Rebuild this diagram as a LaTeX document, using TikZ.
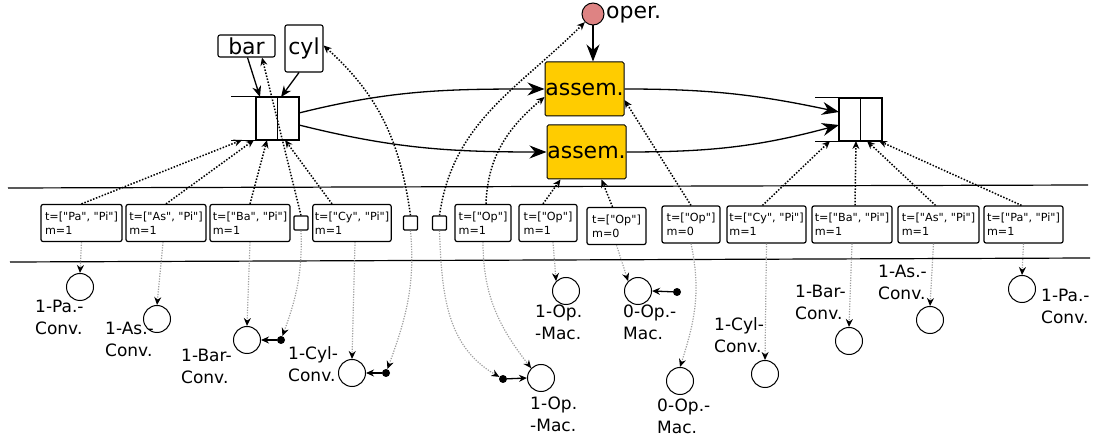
\documentclass[tikz,border=0pt]{standalone}
\usepackage{fontspec}
\setmainfont{DejaVu Sans}[Ligatures=TeXOff]
\usetikzlibrary{arrows.meta}
\definecolor{assemc}{HTML}{FFCC00}
\definecolor{operc}{HTML}{DE8383}
\begin{document}
\begin{tikzpicture}[x=1pt,y=1pt,
  lbl/.style={font=\fontsize{17}{22}\selectfont, align=left, inner sep=0, anchor=north west},
  tok/.style={draw, rounded corners=2pt, line width=1.2pt, font=\fontsize{11.2}{14}\selectfont, align=left, minimum height=37pt, inner xsep=2pt, inner ysep=0},
  sqr/.style={draw, rounded corners=1pt, line width=1.2pt, minimum size=14pt, inner sep=0},
  stn/.style={draw, circle, line width=1pt, minimum size=27pt, inner sep=0},
  blob/.style={fill, circle, minimum size=8pt, inner sep=0},
  updot/.style={line width=1.5pt, dash pattern=on 1.5pt off 1.6pt, -{Stealth[length=8pt,width=7pt]}},
  dndot/.style={line width=1.2pt, draw=gray!75, dash pattern=on 1.2pt off 1.4pt, -{Stealth[length=8pt,width=7pt,color=black]}},
  mainarr/.style={line width=1.3pt, -{Stealth[length=17pt,width=13pt]}},
  smallarr/.style={line width=1.3pt, -{Stealth[length=11pt,width=9pt]}},
  blobarr/.style={line width=1.3pt, -{Stealth[length=8pt,width=7pt]}},
  bigtxt/.style={font=\fontsize{22}{22}\selectfont},
  qline/.style={line width=1.2pt},
]
\useasboundingbox (0,0) rectangle (1096,-446);

% separator lines
\draw[qline] (8,-188) -- (1088,-185);
\draw[qline] (10,-262) -- (1090,-258);

% left queue
\node[draw, qline, minimum width=43pt, minimum height=43pt, inner sep=0] (q1) at (277.5,-118.5) {};
\draw[qline] (q1.north) -- (q1.south);
\draw[qline] (q1.north west) -- ++(-24,0);
\draw[qline] (q1.south west) -- ++(-24,0);
% right queue
\node[draw, qline, minimum width=43pt, minimum height=43pt, inner sep=0] (q2) at (860.5,-119.5) {};
\draw[qline] (q2.north) -- (q2.south);
\draw[qline] (q2.north west) -- ++(-23,0);
\draw[qline] (q2.south west) -- ++(-23,0);

\coordinate (q1o1) at (299,-113);
\coordinate (q1o2) at (299,-125);
\coordinate (q1ta) at (260,-97);
\coordinate (q1tb) at (281,-97);
\coordinate (q1b1) at (242,-140);
\coordinate (q1b2) at (254,-140);
\coordinate (q1b3) at (267,-140);
\coordinate (q1b4) at (285,-140);
\coordinate (q2i1) at (839,-112);
\coordinate (q2i2) at (839,-125);
\coordinate (q2b1) at (830,-141);
\coordinate (q2b2) at (856,-141);
\coordinate (q2b3) at (867,-141);
\coordinate (q2b4) at (879,-141);

% top nodes
\node[draw, rounded corners=2pt, line width=1.1pt, bigtxt, minimum width=57pt, minimum height=22pt, inner sep=0] (bar) at (246.5,-46) {bar};
\node[draw, rounded corners=2pt, line width=1.1pt, bigtxt, minimum width=38pt, minimum height=47pt, inner sep=0] (cyl) at (304,-48.5) {cyl};
\node[circle, draw, fill=operc, line width=1pt, minimum size=22pt, inner sep=0] (oper) at (593,-14) {};
\node[bigtxt, anchor=west, inner sep=0] (operl) at (606,-15) {oper.};
\node[draw, fill=assemc, rounded corners=1.5pt, line width=1pt, bigtxt, minimum width=79pt, minimum height=54pt, inner sep=0] (as1) at (584.5,-89) {assem.};
\node[draw, fill=assemc, rounded corners=1.5pt, line width=1pt, bigtxt, minimum width=79pt, minimum height=54pt, inner sep=0] (as2) at (586.5,-152) {assem.};

% main arrows
\draw[mainarr] (q1o1) to[out=14,in=180] (as1.west);
\draw[mainarr] (q1o2) to[out=-14,in=180] (as2.west);
\draw[mainarr] (as1.east) to[out=0,in=168] (q2i1);
\draw[mainarr] (as2.east) to[out=0,in=195] (q2i2);
\draw[mainarr] (oper.south) -- (oper.south |- as1.north);
\draw[smallarr] ([xshift=1]bar.south) -- (q1ta);
\draw[smallarr] ([xshift=-5]cyl.south) -- (q1tb);

% tokens
\node[tok, minimum width=81pt] (t1) at (81.5,-223) {t=["Pa", "Pi"]\\m=1};
\node[tok, minimum width=80pt] (t2) at (166,-223) {t=["As", "Pi"]\\m=1};
\node[tok, minimum width=80pt] (t3) at (250,-223) {t=["Ba", "Pi"]\\m=1};
\node[sqr] (sq1) at (301,-223) {};
\node[tok, minimum width=78pt] (t4) at (352,-223) {t=["Cy", "Pi"]\\m=1};
\node[sqr] (sq2) at (410.5,-223) {};
\node[sqr] (sq3) at (439.5,-223) {};
\node[tok, minimum width=56pt] (t5) at (483,-223) {t=["Op"]\\m=1};
\node[tok, minimum width=58pt] (t6) at (548,-223) {t=["Op"]\\m=1};
\node[tok, minimum width=59pt] (t7) at (616.5,-226) {t=["Op"]\\m=0};
\node[tok, minimum width=58pt] (t8) at (691,-224.5) {t=["Op"]\\m=0};
\node[tok, minimum width=79pt] (t9) at (766.5,-224.5) {t=["Cy", "Pi"]\\m=1};
\node[tok, minimum width=80pt] (t10) at (852,-224.5) {t=["Ba", "Pi"]\\m=1};
\node[tok, minimum width=81pt] (t11) at (938.5,-224.5) {t=["As", "Pi"]\\m=1};
\node[tok, minimum width=79pt] (t12) at (1023.5,-224.5) {t=["Pa", "Pi"]\\m=1};

% upward dotted connectors
\draw[updot] (t1.north) -- (q1b1);
\draw[updot] (t2.north) -- (q1b2);
\draw[updot] (t3.north) -- (q1b3);
\draw[updot] ([xshift=-20]t4.north) -- (q1b4);
\draw[updot] (sq1.north) -- ([xshift=15.5]bar.south);
\draw[updot] (sq2.north) to[out=98,in=-42] ([yshift=3]cyl.east);
\draw[updot] (sq3.north) to[out=82,in=-135] (oper.south west);
\draw[updot] ([xshift=3]t5.north) to[out=88,in=-140] ([yshift=-8]as1.west);
\draw[updot] ([xshift=-5]t6.north) -- ([xshift=-26]as2.south);
\draw[updot] ([xshift=-4]t7.north) -- ([xshift=15]as2.south);
\draw[updot] (t8.north) -- ([yshift=-11]as1.east);
\draw[updot] ([xshift=-4]t9.north) -- (q2b1);
\draw[updot] ([xshift=3]t10.north) -- (q2b2);
\draw[updot] ([xshift=-3]t11.north) -- (q2b3);
\draw[updot] ([xshift=-2]t12.north) -- (q2b4);

% states
\node[stn] (c1) at (80,-287) {};
\node[stn] (c2) at (157,-319) {};
\node[stn] (c3) at (247,-340) {};
\node[stn] (c4) at (352,-373) {};
\node[stn] (c5) at (541,-378) {};
\node[stn] (c6) at (566,-291) {};
\node[stn] (c7) at (638,-291) {};
\node[stn] (c8) at (680,-381) {};
\node[stn] (c9) at (765,-374) {};
\node[stn] (c10) at (849,-341) {};
\node[stn] (c11) at (930,-320) {};
\node[stn] (c12) at (1022,-289) {};

\node[blob] (d1) at (281,-340) {};
\node[blob] (d2) at (386,-373) {};
\node[blob] (d3) at (503,-379) {};
\node[blob] (d4) at (677,-292) {};

\draw[blobarr] (d1) -- (c3.east);
\draw[blobarr] (d2) -- (c4.east);
\draw[blobarr] (d3) -- (c5.west);
\draw[blobarr] (d4) -- (c7.east);

% labels
\node[lbl] (l1) at (35,-300) {1-Pa.-\\Conv.};
\node[lbl] (l2) at (105,-322) {1-As.-\\Conv.};
\node[lbl] (l3) at (181,-349) {1-Bar-\\Conv.};
\node[lbl] (l4) at (288,-346) {1-Cyl-\\Conv.};
\node[lbl] (l6) at (535,-305) {1-Op.\\-Mac.};
\node[lbl] (l7) at (623,-305) {0-Op.-\\Mac.};
\node[lbl] (l5) at (530,-397) {1-Op.\\-Mac.};
\node[lbl] (l8) at (657,-399) {0-Op.-\\Mac.};
\node[lbl] (l9) at (714,-317) {1-Cyl-\\Conv.};
\node[lbl] (l10) at (795,-285) {1-Bar-\\Conv.};
\node[lbl] (l11) at (878,-265) {1-As.-\\Conv.};
\node[lbl] (l12) at (1041,-289) {1-Pa.-\\Conv.};

% downward grey connectors
\draw[dndot] (t1.south) -- (c1.north);
\draw[dndot] ([xshift=-3]t2.south) -- (c2.north);
\draw[dndot] (t3.south) -- (c3.north);
\draw[dndot] (sq1.south) to[out=-88,in=70] (d1);
\draw[dndot] ([xshift=3]t4.south) -- (c4.north);
\draw[dndot] (sq2.south) to[out=-85,in=70] (d2);
\draw[dndot] (sq3.south) to[out=-88,in=150] (d3);
\draw[dndot] (t5.south) to[out=-90,in=128] (c5.north west);
\draw[dndot] ([xshift=5]t6.south) -- (c6.north west);
\draw[dndot] (t7.south) -- (c7.north west);
\draw[dndot] (t8.south) to[out=-78,in=72] (c8.north);
\draw[dndot] (t9.south) -- (c9.north);
\draw[dndot] (t10.south) -- (c10.north);
\draw[dndot] ([xshift=-5]t11.south) -- (c11.north);
\draw[dndot] (t12.south) -- (c12.north);
\end{tikzpicture}
\end{document}
